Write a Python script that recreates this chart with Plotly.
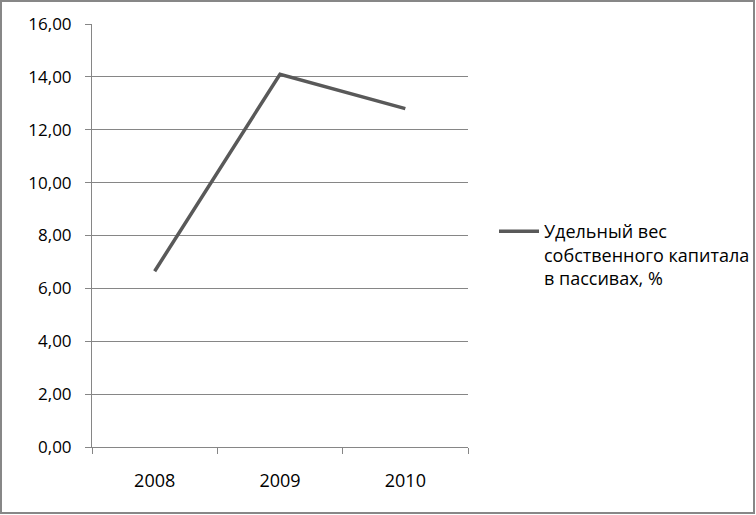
import plotly.graph_objects as go

years = ["2008", "2009", "2010"]
share = [6.65, 14.10, 12.80]
series_name = "Удельный вес<br>собственного капитала<br>в пассивах, %"

W, H = 756, 515
L, R, T, B = 92, 288, 24, 68
pw, ph = W - L - R, H - T - B

def px(xf):
    return (xf - L) / pw

def py(yf):
    return (H - B - yf) / ph

fig = go.Figure()
fig.add_trace(go.Scatter(x=years, y=share, mode="lines", name=series_name,
                         line=dict(color="#595959", width=3.5)))

fig.update_layout(
    width=W, height=H,
    margin=dict(l=L, r=R, t=T, b=B, autoexpand=False),
    paper_bgcolor="white", plot_bgcolor="white",
    separators=", ",
    font=dict(family="Open Sans, Lato, sans-serif", size=17, color="black"),
    showlegend=True,
    legend=dict(x=px(494), y=py(255), xanchor="left", yanchor="middle",
                valign="top", itemwidth=40,
                font=dict(size=18), bgcolor="rgba(0,0,0,0)"),
    xaxis=dict(type="category", range=[-0.5, 2.5], tickson="boundaries",
               ticks="outside", ticklen=6, tickcolor="#868686",
               ticklabelstandoff=17, tickfont=dict(size=18),
               showline=True, linecolor="#868686", linewidth=1,
               showgrid=False, zeroline=False),
    yaxis=dict(range=[0, 16], dtick=2, tickformat=".2f",
               ticks="outside", ticklen=6, tickcolor="#868686",
               ticklabelstandoff=10,
               showline=True, linecolor="#868686", linewidth=1,
               showgrid=True, gridcolor="#868686", gridwidth=1, zeroline=False),
    shapes=[dict(type="rect", xref="paper", yref="paper",
                 x0=px(1), x1=px(W - 2), y0=py(H - 2), y1=py(1),
                 line=dict(color="#878787", width=2), fillcolor="rgba(0,0,0,0)")],
)
fig.write_html(
    "out.html",
    config={"displayModeBar": False},
    post_script="document.body.style.margin='0';document.body.style.overflow='hidden';",
)
